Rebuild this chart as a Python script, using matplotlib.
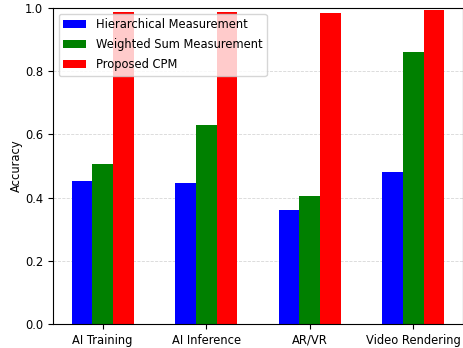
import matplotlib
matplotlib.use("Agg")
import matplotlib.pyplot as plt
import numpy as np

categories = ["AI Training", "AI Inference", "AR/VR", "Video Rendering"]
hierarchical = [0.452, 0.446, 0.361, 0.482]
weighted = [0.506, 0.630, 0.406, 0.862]
proposed = [0.987, 0.987, 0.983, 0.993]

plt.rcParams["font.size"] = 8.3
fig, ax = plt.subplots(figsize=(4.64, 3.48), dpi=100)
x = np.arange(len(categories))
w = 0.2
ax.bar(x - w, hierarchical, w, color="blue", label="Hierarchical Measurement")
ax.bar(x, weighted, w, color="green", label="Weighted Sum Measurement")
ax.bar(x + w, proposed, w, color="red", label="Proposed CPM")
ax.set_xticks(x)
ax.set_xticklabels(categories)
ax.set_ylabel("Accuracy", labelpad=1.5)
ax.set_ylim(0, 1.0)
ax.yaxis.grid(True, linestyle="--", linewidth=0.6, alpha=0.5)
ax.set_axisbelow(True)
ax.legend(loc="upper left", labelspacing=0.6)
fig.subplots_adjust(left=0.114, right=0.998, top=0.977, bottom=0.069)
fig.savefig("out.png")
